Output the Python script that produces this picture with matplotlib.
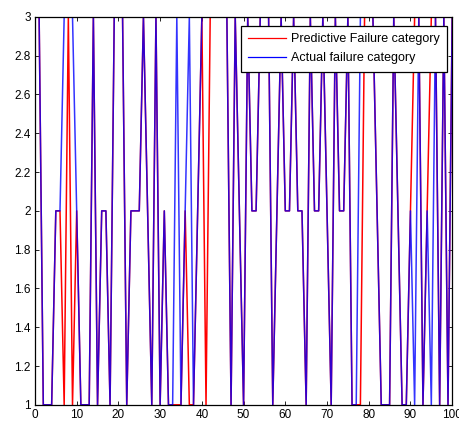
import numpy as np
import matplotlib
matplotlib.use("Agg")
import matplotlib.pyplot as plt

plt.rcParams['font.family'] = ['Liberation Sans', 'DejaVu Sans']

samples = np.arange(1, 101)

actual = [3, 1, 1, 1, 2, 2, 3, 3, 3, 2,
          1, 1, 1, 3, 1, 2, 2, 1, 3, 3,
          3, 1, 2, 2, 2, 3, 2, 1, 3, 1,
          2, 1, 1, 3, 1, 2, 3, 1, 2, 3,
          3, 3, 3, 3, 3, 3, 1, 3, 2, 1,
          3, 2, 2, 3, 3, 3, 1, 2, 3, 2,
          2, 3, 2, 2, 1, 3, 2, 2, 3, 2,
          1, 3, 2, 2, 3, 1, 1, 3, 3, 3,
          3, 2, 1, 1, 1, 3, 2, 1, 1, 2,
          1, 3, 1, 2, 1, 3, 1, 3, 1, 3]

predicted = [3, 1, 1, 1, 2, 2, 1, 3, 1, 2,
             1, 1, 1, 3, 1, 2, 2, 1, 3, 3,
             3, 1, 2, 2, 2, 3, 2, 1, 3, 1,
             2, 1, 1, 1, 1, 2, 1, 1, 2, 3,
             1, 3, 3, 3, 3, 3, 1, 3, 2, 1,
             3, 2, 2, 3, 3, 3, 1, 2, 3, 2,
             2, 3, 2, 2, 1, 3, 2, 2, 3, 2,
             1, 3, 2, 2, 3, 1, 1, 1, 3, 3,
             3, 2, 1, 1, 1, 3, 2, 1, 1, 2,
             3, 3, 1, 2, 3, 3, 1, 3, 1, 3]

x_ticks = np.arange(0, 101, 10)
y_ticks = np.round(np.arange(1, 3.01, 0.2), 1)
y_labels = ['1', '1.2', '1.4', '1.6', '1.8', '2', '2.2', '2.4', '2.6', '2.8', '3']

fig = plt.figure(figsize=(4.6, 4.23), dpi=100)
ax = fig.add_axes([0.076, 0.043, 0.907, 0.917])

ax.plot(samples, predicted, color='red', lw=1.1, label='Predictive Failure category')
ax.plot(samples, actual, color='blue', lw=1.1, alpha=0.8, label='Actual failure category')

ax.set_xlim(0, 100)
ax.set_ylim(1, 3)
ax.set_xticks(x_ticks)
ax.set_yticks(y_ticks)
ax.set_yticklabels(y_labels)
ax.tick_params(direction='in', top=True, right=True, length=3, width=0.6, labelsize=8.5, pad=3)
for s in ax.spines.values():
    s.set_linewidth(0.9)

leg = ax.legend(loc='upper right', bbox_to_anchor=(0.988, 0.977), fontsize=9,
                fancybox=False, framealpha=1, edgecolor='black',
                handlelength=3.0, handletextpad=0.4, borderaxespad=0,
                borderpad=0.6, labelspacing=0.55)
leg.get_frame().set_linewidth(0.9)
for h in leg.get_lines():
    h.set_alpha(1)
    h.set_linewidth(0.9)

fig.savefig('out.png', dpi=100)
